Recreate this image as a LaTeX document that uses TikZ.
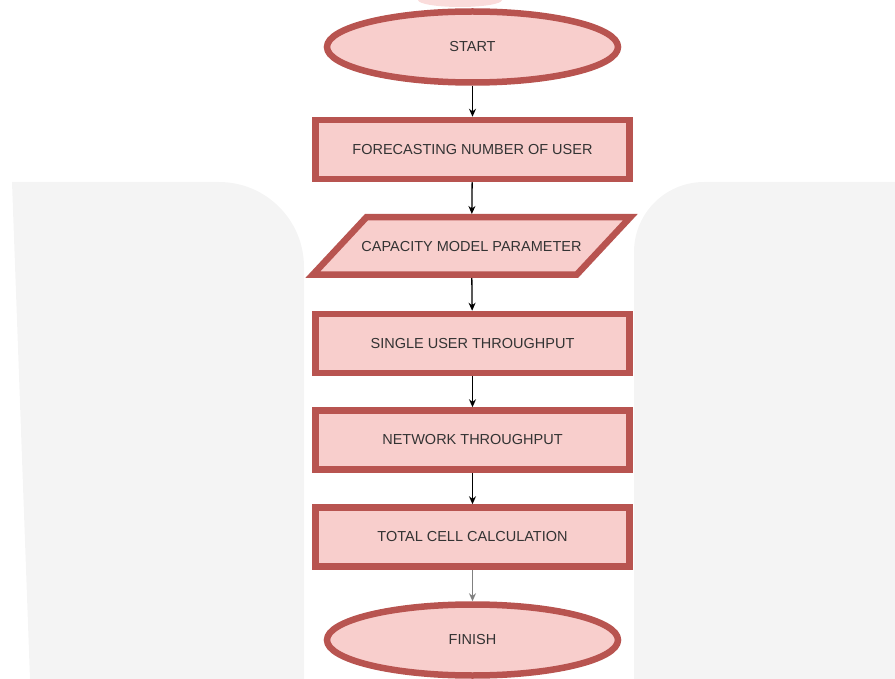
\documentclass[tikz,border=0pt]{standalone}
\usepackage{fontspec}
\setmainfont{Liberation Sans}
\usetikzlibrary{shapes.geometric, arrows.meta}
\definecolor{boxline}{HTML}{B85450}
\definecolor{boxfill}{HTML}{F8CECC}
\definecolor{boxtext}{HTML}{333333}
\definecolor{panel}{HTML}{F4F4F4}
\definecolor{blush}{HTML}{FADCDB}

\begin{document}
\begin{tikzpicture}[x=1pt, y=-1pt, font=\fontsize{14.5}{16}\selectfont, line width=1.3pt,
    terminal/.style={ellipse, draw=boxline, fill=boxfill, line width=6.5pt,
        minimum width=291pt, minimum height=71pt, inner sep=0pt, text=boxtext},
    process/.style={rectangle, draw=boxline, fill=boxfill, line width=6.5pt,
        minimum width=314pt, minimum height=59pt, inner sep=0pt, text=boxtext},
    dataio/.style={trapezium, trapezium left angle=47, trapezium right angle=133,
        draw=boxline, fill=boxfill, line width=6.5pt, text height=10.5pt, text depth=0pt,
        inner xsep=-5pt, inner ysep=23.5pt, text=boxtext},
    flow/.style={-{Stealth[length=8pt, width=7pt]}, black}]
        \useasboundingbox (0,0) rectangle (895,679);
        \fill[panel] (30,679) -- (12,182) [rounded corners=85pt]-- (304,182) [sharp corners]-- (304,679) -- cycle;
        \fill[panel] (895,679) -- (895,182) [rounded corners=70pt]-- (634,182) [sharp corners]-- (634,679) -- cycle;
        \fill[blush] (460,0) ellipse (42 and 7);

        \node[terminal] (start) at (472.5,47) {START};
        \node[process] (forecast) at (472.5,149.5) {FORECASTING NUMBER OF USER};
        \node[dataio] (param) at (471.5,246) {CAPACITY MODEL PARAMETER};
        \node[process] (single) at (472.5,343.5) {SINGLE USER THROUGHPUT};
        \node[process] (network) at (472.5,440) {NETWORK THROUGHPUT};
        \node[process] (cells) at (472.5,537) {TOTAL CELL CALCULATION};
        \node[terminal] (finish) at (472.5,640) {FINISH};

        \draw[flow] (start) -- (forecast);
        \draw[flow] (forecast) -- (param);
        \draw[flow] (param) -- (single);
        \draw[flow] (single) -- (network);
        \draw[flow] (network) -- (cells);
        \draw[flow, gray] (cells) -- (finish);
\end{tikzpicture}
\end{document}
